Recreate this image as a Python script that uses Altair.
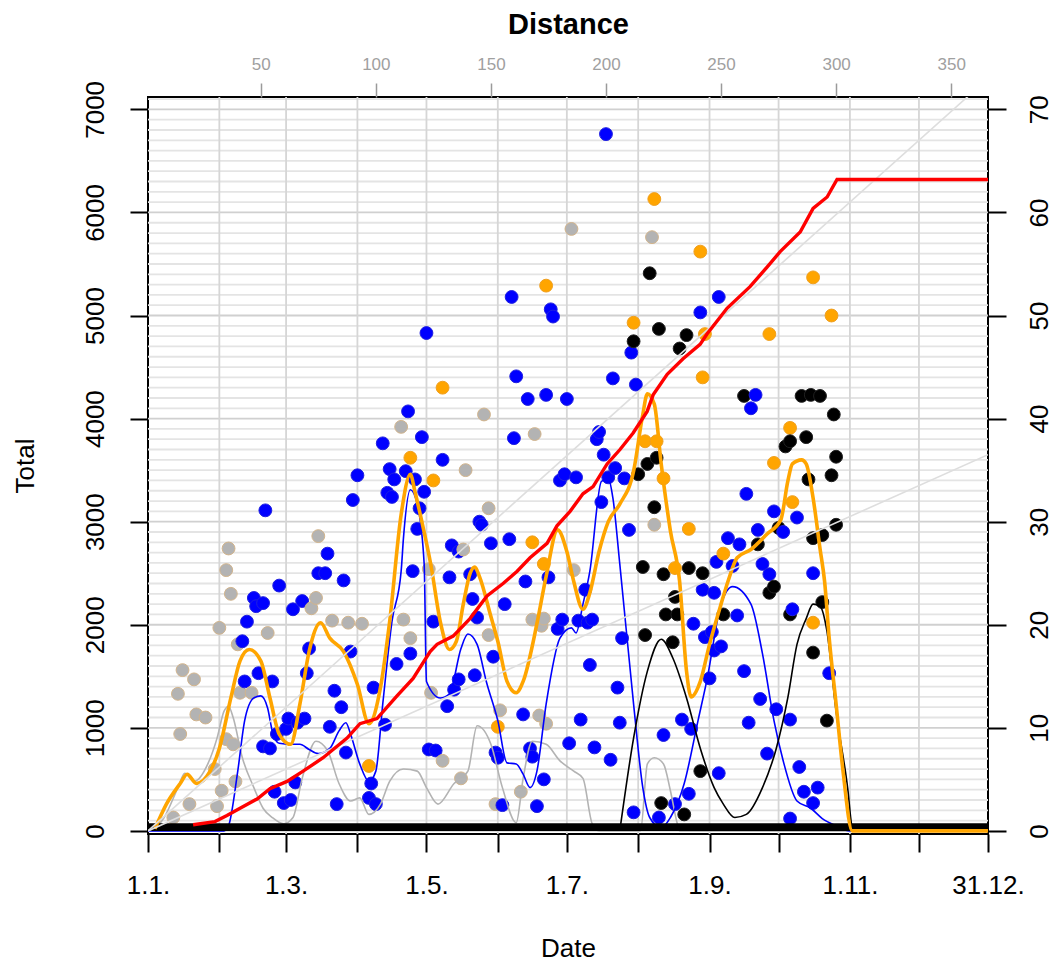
import altair as alt
import pandas as pd

# ---------------- data ----------------
# points (day of year, 0 = 1 Jan of a leap year; value = Total)
gray_day = [35, 34, 74, 36, 31, 52, 39, 15, 20, 13, 21, 25, 14, 40, 45, 34, 37, 29, 38, 32,
            18, 30, 11, 71, 73, 80, 87, 93, 111, 114, 110, 122, 123, 146, 168, 138, 148, 137, 185, 184,
            219, 220, 153, 170, 173, 128, 136, 162, 151, 167, 172, 171, 148]
gray_val = [2740, 2530, 2860, 2300, 1970, 1920, 1810, 1560, 1470, 1330, 1130, 1100, 940, 1340, 1340, 890, 840, 600, 480, 390,
            260, 240, 130, 2160, 2260, 2040, 2020, 2010, 2050, 1870, 3920, 2540, 1340, 4040, 3850, 3500, 3130, 2730, 2530, 5840,
            5760, 2970, 1170, 1120, 1040, 680, 510, 380, 260, 2050, 2060, 1990, 1900]

blue_day = [51, 78, 74, 77, 85, 91, 89, 102, 113, 119, 105, 112, 107, 116, 104, 106, 120, 118, 117, 115,
            121, 57, 46, 50, 47, 43, 41, 48, 42, 54, 50, 53, 55, 59, 62, 64, 63, 67, 70, 69,
            88, 114, 108, 98, 81, 84, 61, 68, 65, 56, 60, 79, 103, 86, 97, 96, 99, 82, 122, 199,
            158, 175, 176, 240, 248, 210, 202, 212, 160, 165, 173, 182, 159, 196, 195, 198, 203, 200, 207, 179,
            181, 186, 128, 197, 209, 144, 145, 149, 157, 132, 135, 247, 131, 140, 164, 174, 190, 141, 155, 241,
            246, 124, 143, 180, 178, 187, 191, 193, 237, 242, 245, 246, 249, 206, 150, 192, 135, 133, 142, 244,
            130, 204, 163, 188, 205, 232, 236, 224, 125, 151, 152, 166, 167, 183, 194, 201, 248, 172, 235, 154,
            169, 211, 222, 229, 264, 262, 260, 272, 282, 276, 265, 252, 257, 254, 267, 270, 289, 256, 280, 259,
            296, 266, 273, 261, 279, 269, 283, 285, 291, 289, 279]
blue_val = [3110, 2690, 2500, 2500, 2430, 3450, 3210, 3760, 4070, 3820, 3510, 3490, 3410, 3410, 3280, 3240, 3290, 3130, 2930, 2520,
            4830, 2380, 2260, 2210, 2180, 2030, 1840, 1530, 1450, 1450, 820, 800, 380, 270, 300, 470, 2150, 2230, 1770, 1530,
            1740, 1720, 1620, 1390, 1360, 1200, 1090, 1090, 1050, 940, 990, 1010, 1030, 760, 460, 320, 260, 260, 790, 6760,
            5180, 5060, 4990, 5030, 5180, 4640, 4390, 4330, 4410, 4190, 4230, 4190, 3810, 3870, 3800, 3650, 3520, 3430, 3420, 3400,
            3460, 3430, 3600, 3190, 2920, 3000, 2970, 2790, 2830, 2770, 2710, 2610, 2460, 2490, 2420, 2460, 2340, 2250, 2200, 2340,
            2310, 2030, 2070, 2050, 1960, 2040, 2020, 2050, 2010, 1880, 1930, 1750, 1790, 1870, 1690, 1610, 1470, 1370, 1510, 1480,
            1210, 1390, 1130, 1080, 1050, 1080, 990, 930, 780, 760, 710, 800, 720, 850, 810, 690, 560, 500, 360, 250,
            240, 180, 130, 260, 4230, 4100, 3270, 3100, 3040, 2900, 2920, 2840, 2780, 2570, 2590, 2490, 2500, 2090, 2150, 1550,
            1530, 1280, 1180, 1050, 1080, 750, 620, 380, 420, 270, 120]

orange_day = [114, 96, 220, 240, 173, 211, 242, 241, 128, 216, 221, 224, 124, 235, 167, 172, 229, 152, 289, 297,
              270, 279, 272, 280, 250, 289]
orange_val = [3620, 630, 6130, 5620, 5290, 4930, 4820, 4400, 4300, 3780, 3780, 3420, 3400, 2930, 2800, 2590, 2550, 1010, 5370, 5000,
              4820, 3910, 3570, 3190, 2690, 2020]

black_day = [218, 222, 211, 234, 231, 213, 217, 221, 220, 215, 224, 235, 241, 229, 225, 230, 216, 228, 240, 223,
             233, 259, 284, 288, 292, 298, 286, 277, 279, 299, 287, 297, 274, 299, 289, 293, 265, 270, 272, 250,
             279, 293, 289, 295]
black_val = [5410, 4870, 4750, 4810, 4680, 3460, 3560, 3620, 3140, 2560, 2490, 2550, 2500, 2270, 2100, 2100, 1900, 1830, 580, 270,
             160, 4220, 4220, 4230, 4220, 4040, 3820, 3730, 3780, 3630, 3410, 3450, 2940, 2970, 2840, 2870, 2780, 2310, 2370, 2100,
             2100, 2220, 1730, 1070]

# smoothed curves (Total scale)
orange_line_day = [3, 8, 14, 17, 21, 27, 31, 36, 40, 44, 49, 53, 57, 62, 66, 70, 75, 79, 85, 91,
                   96, 101, 105, 110, 114, 116, 119, 123, 127, 131, 134, 137, 140, 142, 144, 149, 152, 156, 160, 163,
                   169, 173, 178, 182, 185, 189, 192, 196, 200, 205, 211, 215, 217, 220, 223, 227, 231, 234, 236, 240,
                   244, 249, 252, 256, 262, 269, 275, 278, 280, 284, 286, 289, 292, 294, 296, 299, 302, 306, 365]
orange_line_val = [20, 260, 460, 550, 460, 580, 800, 1290, 1650, 1760, 1650, 1290, 940, 840, 1230, 1740, 2020, 1870, 1740, 1420,
                   1040, 1390, 2030, 3070, 3460, 3290, 3000, 2570, 2030, 1760, 1840, 2200, 2500, 2560, 2470, 2080, 1840, 1450, 1340, 1450,
                   2010, 2470, 2920, 2710, 2420, 2150, 2310, 2710, 3000, 3170, 3490, 4040, 4240, 4140, 3560, 2910, 2420, 1550, 1300, 1450,
                   1810, 2200, 2420, 2650, 2730, 2880, 3020, 3390, 3560, 3600, 3560, 3230, 2740, 2420, 1870, 1230, 580, 0, 0]

blue_line_day = [0, 33, 35, 39, 42, 46, 49, 52, 54, 57, 62, 66, 70, 74, 79, 83, 86, 88, 92, 96,
                 99, 102, 106, 110, 111, 114, 117, 120, 121, 127, 131, 136, 139, 143, 147, 152, 156, 160, 163, 166,
                 169, 173, 179, 184, 186, 189, 192, 197, 200, 202, 205, 211, 215, 218, 223, 227, 233, 239, 243, 249,
                 254, 262, 267, 272, 276, 282, 288, 293, 299, 305, 365]
blue_line_val = [0, 0, 50, 580, 1070, 1290, 1310, 1190, 970, 850, 840, 840, 790, 750, 800, 970, 1050, 940, 650, 480,
                 580, 1230, 2030, 2520, 2840, 3310, 3170, 2590, 1450, 1290, 1330, 1770, 1910, 1810, 1450, 1070, 660, 650, 550, 420,
                 580, 1230, 1870, 1970, 1920, 2200, 2520, 3390, 3420, 3230, 2590, 1230, 420, 130, 30, 130, 460, 1070, 1480, 2200,
                 2370, 2200, 1720, 1070, 680, 290, 220, 120, 50, 0, 0]

gray_line_day = [3, 7, 13, 16, 20, 26, 30, 33, 35, 37, 41, 46, 50, 54, 59, 63, 67, 73, 78, 83,
                 88, 92, 96, 101, 105, 111, 117, 121, 126, 133, 139, 143, 149, 154, 160, 163, 167, 173, 179, 185,
                 189, 193, 196, 214, 217, 220, 224, 227, 230, 231, 365]
gray_line_val = [20, 130, 420, 560, 480, 650, 900, 1160, 1210, 1100, 710, 420, 220, 130, 70, 130, 510, 870, 780, 460,
                 290, 320, 160, 260, 480, 600, 580, 420, 260, 460, 580, 1020, 840, 420, 80, 510, 870, 840, 680, 580,
                 510, 70, 0, 0, 650, 710, 650, 390, 70, 0, 0]

black_line_day = [205, 211, 217, 223, 228, 234, 240, 246, 250, 255, 260, 267, 273, 278, 282, 286, 289, 292, 295, 299,
                  304, 306, 307, 365]
black_line_val = [0, 900, 1550, 1860, 1680, 1290, 800, 420, 260, 130, 160, 420, 800, 1290, 1810, 2060, 2200, 2180, 1940, 1160,
                  420, 30, 0, 0]

# cumulative distance (right axis)
red_day = [19.6, 29.1, 34.3, 40.0, 47.4, 53.0, 60.4, 67.4, 76.1, 86.5, 92.1, 99.5, 108.2, 115.2, 122.6, 125.6, 132.6, 139.9,
           147.3, 154.3, 160.4, 166.0, 173.4, 177.7, 183.4, 189.0, 193.4, 199.5, 205.1, 210.8, 216.9, 219.5, 225.6, 232.5,
           239.9, 242.9, 251.6, 261.6, 269.0, 274.7, 283.4, 289.0, 295.1, 299.4, 365]
red_val = [0.6, 0.9, 1.5, 2.2, 3.1, 4.1, 4.8, 5.8, 7.1, 9.0, 10.4, 10.9, 13.1, 14.8, 17.4, 18.1, 18.9, 20.6,
           22.8, 24.0, 25.2, 26.5, 27.9, 29.6, 31.0, 32.7, 33.4, 35.6, 37.0, 38.6, 40.7, 42.3, 44.3, 45.8,
           47.2, 48.2, 50.7, 52.8, 54.7, 56.2, 58.1, 60.4, 61.5, 63.2, 63.2]

# reference lines through the origin (Total per day)
ref_slopes = [10, 20]

# axes
month_starts = [0, 31, 60, 91, 121, 152, 182, 213, 244, 274, 305, 335, 365]
date_labels = {0: "1.1.", 60: "1.3.", 121: "1.5.", 182: "1.7.", 244: "1.9.", 305: "1.11.", 365: "31.12."}
total_ticks = [0, 1000, 2000, 3000, 4000, 5000, 6000, 7000]
right_ticks = [0, 10, 20, 30, 40, 50, 60, 70]
distance_ticks = [50, 100, 150, 200, 250, 300, 350]

# ---------------- chart ----------------
FONT = "Liberation Sans"
W, H = 840, 737
X_DOMAIN = [0, 365]
Y_DOMAIN = [-30, 7120]

xscale = alt.Scale(domain=X_DOMAIN, nice=False, zero=False)
yscale = alt.Scale(domain=Y_DOMAIN, nice=False, zero=False)

label_expr = "".join(f"datum.value == {k} ? '{v}' : " for k, v in date_labels.items()) + "''"

xaxis = alt.Axis(values=month_starts, labelExpr=label_expr, title="Date", grid=False, domain=False,
                 tickSize=18, tickWidth=2, tickColor="black",
                 labelFont=FONT, labelFontSize=26, labelColor="black", labelPadding=33,
                 labelBaseline="middle", labelFlush=False, labelOverlap=False,
                 titleFont=FONT, titleFontSize=26, titleFontWeight="normal", titleColor="black",
                 titleX=W / 2, titleY=114, titleBaseline="middle", titleAlign="center")
yaxis = alt.Axis(values=total_ticks, format="d", title="Total", grid=False, domain=False,
                 tickSize=18, tickWidth=2, tickColor="black",
                 labelFont=FONT, labelFontSize=26, labelColor="black", labelPadding=35,
                 labelAngle=270, labelAlign="center", labelBaseline="middle",
                 labelFlush=False, labelOverlap=False,
                 titleFont=FONT, titleFontSize=26, titleFontWeight="normal", titleColor="black",
                 titleX=-123, titleY=H / 2, titleAngle=270, titleBaseline="middle", titleAlign="center")

X = lambda f: alt.X(f, scale=xscale, axis=xaxis)
Y = lambda f: alt.Y(f, scale=yscale, axis=yaxis)

# grid
minor_df = pd.DataFrame({"v": [v for v in range(0, 7101, 100) if v % 1000 != 0]})
major_df = pd.DataFrame({"v": total_ticks})
vgrid_df = pd.DataFrame({"d": month_starts[1:-1]})

g_minor = alt.Chart(minor_df).mark_rule(color="#e4e4e4", strokeWidth=1.8).encode(y=Y("v:Q"))
g_major = alt.Chart(major_df).mark_rule(color="#d0d0d0", strokeWidth=1.8).encode(y=Y("v:Q"))
g_vert = alt.Chart(vgrid_df).mark_rule(color="#d6d6d6", strokeWidth=1.8).encode(x=X("d:Q"))

# points drawn in date order
cats = ["gray", "blue", "orange", "black"]
frames = []
for c, dd, vv in zip(cats, [gray_day, blue_day, orange_day, black_day],
                     [gray_val, blue_val, orange_val, black_val]):
    frames.append(pd.DataFrame({"day": dd, "value": vv, "cat": c}))
pts_df = pd.concat(frames, ignore_index=True).sort_values("day", kind="stable").reset_index(drop=True)
pts_df["seq"] = range(len(pts_df))

points = alt.Chart(pts_df).mark_circle(size=165, opacity=1, strokeWidth=1).encode(
    x=X("day:Q"), y=Y("value:Q"),
    color=alt.Color("cat:N", scale=alt.Scale(domain=cats, range=["#b3b3b3", "#0000ff", "#ffa500", "#000000"]), legend=None),
    stroke=alt.Stroke("cat:N", scale=alt.Scale(domain=cats, range=["#d2b48c", "#2020e0", "#f0a020", "#202020"]), legend=None),
    order=alt.Order("seq:Q"),
)


def smooth(days, vals, color, width):
    df = pd.DataFrame({"day": days, "value": vals})
    return alt.Chart(df).mark_line(color=color, strokeWidth=width, interpolate="monotone").encode(
        x=X("day:Q"), y=Y("value:Q"))


l_gray = smooth(gray_line_day, gray_line_val, "#b3b3b3", 1.6)
l_blue = smooth(blue_line_day, blue_line_val, "#0000ff", 1.6)
l_black = smooth(black_line_day, black_line_val, "#000000", 1.6)
l_orange = smooth(orange_line_day, orange_line_val, "#ffa500", 3.6)

ref_rows = []
for s in ref_slopes:
    for d in X_DOMAIN:
        ref_rows.append({"slope": s, "day": d, "value": s * d})
ref_df = pd.DataFrame(ref_rows)
refs = alt.Chart(ref_df).mark_line(color="#dedede", strokeWidth=1.6, clip=True).encode(
    x=X("day:Q"), y=Y("value:Q"), detail="slope:N")

band_df = pd.DataFrame({"x0": [X_DOMAIN[0]], "x1": [X_DOMAIN[1]], "y0": [0], "y1": [75]})
band = alt.Chart(band_df).mark_rect(color="black").encode(
    x=X("x0:Q"), x2="x1:Q", y=Y("y0:Q"), y2="y1:Q")

inner = alt.layer(g_minor, g_major, g_vert, points, l_gray, l_blue, l_black, band, l_orange, refs)

# red cumulative line on the right axis
right_axis = alt.Axis(values=right_ticks, format="d", title=None, grid=False, domain=False, orient="right",
                      tickSize=18, tickWidth=2, tickColor="black",
                      labelFont=FONT, labelFontSize=26, labelColor="black", labelPadding=33,
                      labelAngle=270, labelAlign="center", labelBaseline="middle",
                      labelFlush=False, labelOverlap=False)
red_df = pd.DataFrame({"day": red_day, "dist": red_val})
red = alt.Chart(red_df).mark_line(color="#ff0000", strokeWidth=3.4).encode(
    x=alt.X("day:Q", scale=xscale, axis=None),
    y=alt.Y("dist:Q", scale=alt.Scale(domain=[Y_DOMAIN[0] / 100, Y_DOMAIN[1] / 100], nice=False, zero=False),
            axis=right_axis),
)

# top "Distance" axis
top_axis = alt.Axis(values=distance_ticks, format="d", title="Distance", orient="top", grid=False, domain=False,
                    tickSize=14, tickWidth=1.5, tickColor="#9a9a9a",
                    labelFont=FONT, labelFontSize=17, labelColor="#a0a0a0", labelPadding=10,
                    labelFlush=False, labelOverlap=False,
                    titleFont=FONT, titleFontSize=29, titleFontWeight="bold", titleColor="black",
                    titleX=W / 2, titleY=-73, titleBaseline="middle", titleAlign="center")
top_df = pd.DataFrame({"distance": [1, 366]})
top = alt.Chart(top_df).mark_point(opacity=0).encode(
    x=alt.X("distance:Q", scale=alt.Scale(domain=[1, 366], nice=False, zero=False), axis=top_axis))

chart = alt.layer(inner, red, top).resolve_scale(x="independent", y="independent").properties(
    width=W, height=H,
    autosize=alt.AutoSizeParams(type="none"),
    padding={"left": 140, "top": 89, "right": 65, "bottom": 128},
).configure_view(stroke="black", strokeWidth=2)

chart.save("out.html", embed_options={"renderer": "svg", "actions": False})
